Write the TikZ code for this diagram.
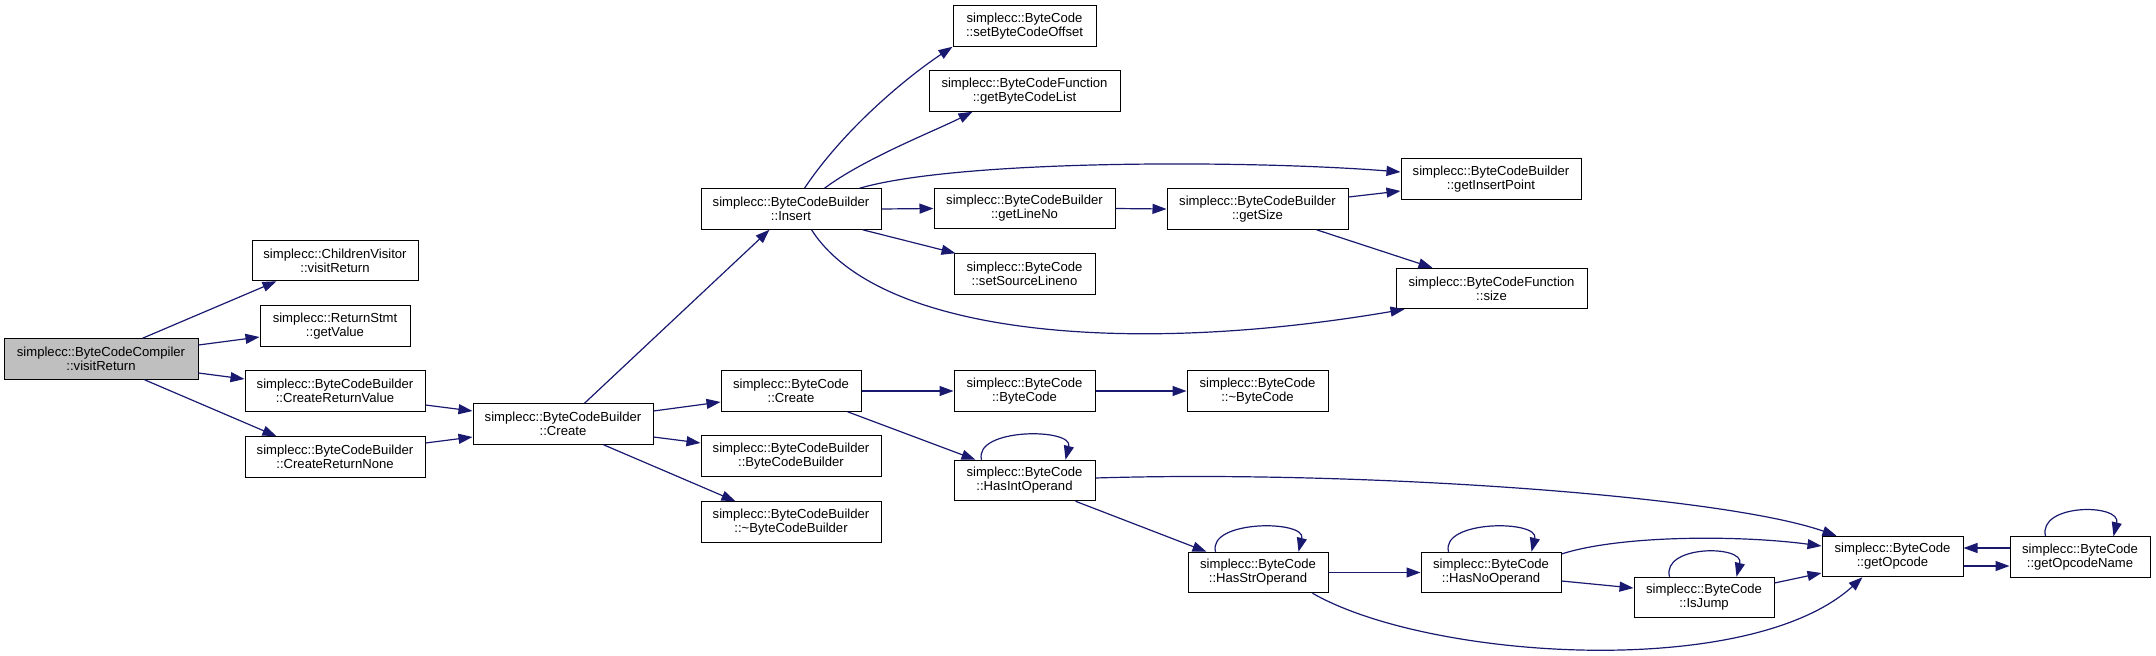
\documentclass[tikz,border=0pt]{standalone}
\usepackage{fontspec}
\setmainfont{Liberation Sans}
\usetikzlibrary{arrows.meta,calc}
\definecolor{edgeblue}{HTML}{191970}
\definecolor{rootgray}{HTML}{BFBFBF}
\begin{document}
\begin{tikzpicture}[x=1pt,y=-1pt,
  fn/.style={draw=black, line width=1pt, fill=white, minimum height=40.5pt, inner sep=0pt, align=center, font=\fontsize{13.1}{14}\selectfont},
  edge/.style={draw=edgeblue, line width=1.2pt, -{Triangle[length=14pt,width=10pt]}}]
\useasboundingbox (0,0) rectangle (2156,656);
% nodes
\node[fn, fill=rootgray, minimum width=194pt] (comp) at (101,359) {simplecc::ByteCodeCompiler\\::visitReturn};
\node[fn, minimum width=166pt] (cv) at (335,260.5) {simplecc::ChildrenVisitor\\::visitReturn};
\node[fn, minimum width=150pt] (gv) at (335,326) {simplecc::ReturnStmt\\::getValue};
\node[fn, minimum width=180pt] (crv) at (335,391) {simplecc::ByteCodeBuilder\\::CreateReturnValue};
\node[fn, minimum width=180pt] (crn) at (335,457) {simplecc::ByteCodeBuilder\\::CreateReturnNone};
\node[fn, minimum width=180pt] (create) at (563,424) {simplecc::ByteCodeBuilder\\::Create};
\node[fn, minimum width=180pt] (insert) at (791,209) {simplecc::ByteCodeBuilder\\::Insert};
\node[fn, minimum width=140pt] (bccreate) at (791,391) {simplecc::ByteCode\\::Create};
\node[fn, minimum width=180pt] (bcbctor) at (791,456) {simplecc::ByteCodeBuilder\\::ByteCodeBuilder};
\node[fn, minimum width=180pt] (bcbdtor) at (791,522) {simplecc::ByteCodeBuilder\\::\textasciitilde ByteCodeBuilder};
\node[fn, minimum width=143pt] (setoff) at (1024.5,26) {simplecc::ByteCode\\::setByteCodeOffset};
\node[fn, minimum width=191pt] (getbcl) at (1024.5,91) {simplecc::ByteCodeFunction\\::getByteCodeList};
\node[fn, minimum width=181pt] (getline) at (1024.5,208.5) {simplecc::ByteCodeBuilder\\::getLineNo};
\node[fn, minimum width=141pt] (setsrc) at (1024.5,274) {simplecc::ByteCode\\::setSourceLineno};
\node[fn, minimum width=141pt] (bcctor) at (1024.5,391) {simplecc::ByteCode\\::ByteCode};
\node[fn, minimum width=141pt] (hasint) at (1024.5,480.5) {simplecc::ByteCode\\::HasIntOperand};
\node[fn, minimum width=181pt] (getsize) at (1257.5,209) {simplecc::ByteCodeBuilder\\::getSize};
\node[fn, minimum width=141pt] (bcdtor) at (1257.5,391) {simplecc::ByteCode\\::\textasciitilde ByteCode};
\node[fn, minimum width=140pt] (hasstr) at (1258,572.5) {simplecc::ByteCode\\::HasStrOperand};
\node[fn, minimum width=180pt] (getins) at (1491,179) {simplecc::ByteCodeBuilder\\::getInsertPoint};
\node[fn, minimum width=191pt] (size) at (1491.5,288.5) {simplecc::ByteCodeFunction\\::size};
\node[fn, minimum width=140pt] (hasno) at (1491,572.5) {simplecc::ByteCode\\::HasNoOperand};
\node[fn, minimum width=140pt] (isjump) at (1704,597.5) {simplecc::ByteCode\\::IsJump};
\node[fn, minimum width=141pt] (getop) at (1892.5,556.5) {simplecc::ByteCode\\::getOpcode};
\node[fn, minimum width=140pt] (getopname) at (2080,557) {simplecc::ByteCode\\::getOpcodeName};
% edges
\draw[edge] ($(comp.north west)+(139,0)$) -- ($(cv.south west)+(25,0)$);
\draw[edge] ($(comp.east)+(0,-14)$) -- ($(gv.west)+(0,11)$);
\draw[edge] ($(comp.east)+(0,14)$) -- ($(crv.west)+(0,-12)$);
\draw[edge] ($(comp.south west)+(141,0)$) -- ($(crn.north west)+(32,0)$);
\draw[edge] ($(crv.east)+(0,14)$) -- ($(create.west)+(0,-13)$);
\draw[edge] ($(crn.east)+(0,-14)$) -- ($(create.west)+(0,13)$);
\draw[edge] ($(create.north west)+(112,0)$) -- ($(insert.south west)+(69,0)$);
\draw[edge] ($(create.east)+(0,-13)$) -- ($(bccreate.west)+(0,11)$);
\draw[edge] ($(create.east)+(0,13)$) -- ($(bcbctor.west)+(0,-13)$);
\draw[edge] ($(create.south west)+(131,0)$) -- ($(bcbdtor.north west)+(35,0)$);
\draw[edge] ($(insert.north west)+(104,0)$) .. controls +(40,-60) and +(-45,30) .. (setoff.south west);
\draw[edge] ($(insert.north west)+(124,0)$) .. controls +(40,-30) and +(-35,18) .. ($(getbcl.south west)+(44,0)$);
\draw[edge] ($(insert.north west)+(159,0)$) .. controls +(100,-29) and +(-151,-12) .. ($(getins.west)+(0,-7)$);
\draw[edge] (insert.east) -- (getline.west);
\draw[edge] ($(insert.south west)+(162,0)$) -- ($(setsrc.north west)+(2,0)$);
\draw[edge] ($(insert.south west)+(111,0)$) .. controls +(68,106) and +(-275,47) .. ($(size.south west)+(9,0)$);
\draw[edge] (getline.east) -- (getsize.west);
\draw[edge] ($(getsize.east)+(0,-12)$) -- ($(getins.west)+(0,12)$);
\draw[edge] ($(getsize.south west)+(150,0)$) -- ($(size.north west)+(37,0)$);
\draw[edge] (bccreate.east) -- (bcctor.west);
\draw[edge] ($(bccreate.south west)+(127,0)$) -- ($(hasint.north west)+(22,0)$);
\draw[edge] ($(hasint.north west)+(28,0)$) .. controls +(-8,-32) and +(8,-32) .. ($(hasint.north west)+(112,0)$);
\draw[edge] ($(hasint.south west)+(122,0)$) -- ($(hasstr.north west)+(19,0)$);
\draw[edge] ($(hasint.east)+(0,-2.5)$) .. controls +(255,-8) and +(-117,-41) .. ($(getop.north west)+(15,0)$);
\draw[edge] (bcctor.east) -- (bcdtor.west);
\draw[edge] ($(hasstr.north west)+(28,0)$) .. controls +(-8,-32) and +(8,-32) .. ($(hasstr.north west)+(111,0)$);
\draw[edge] (hasstr.east) -- (hasno.west);
\draw[edge] ($(hasstr.south west)+(125,0)$) .. controls +(117,67) and +(-113,103) .. ($(getop.south west)+(41,0)$);
\draw[edge] ($(hasno.north west)+(28,0)$) .. controls +(-8,-32) and +(8,-32) .. ($(hasno.north west)+(111,0)$);
\draw[edge] ($(hasno.east)+(0,-18.5)$) .. controls +(59,-19) and +(-82,-11) .. ($(getop.west)+(0,-10.5)$);
\draw[edge] ($(hasno.east)+(0,8.5)$) -- ($(isjump.west)+(0,-9.5)$);
\draw[edge] ($(isjump.north west)+(36,0)$) .. controls +(-8,-32) and +(8,-32) .. ($(isjump.north west)+(103,0)$);
\draw[edge] ($(isjump.east)+(0,-14.5)$) -- ($(getop.west)+(0,16.5)$);
\draw[edge] ($(getopname.west)+(0,-9)$) -- ($(getop.east)+(0,-8.5)$);
\draw[edge] ($(getop.east)+(0,9.5)$) -- ($(getopname.west)+(0,9)$);
\draw[edge] ($(getopname.north west)+(36,0)$) .. controls +(-8,-33) and +(8,-33) .. ($(getopname.north west)+(104,0)$);
\end{tikzpicture}
\end{document}
